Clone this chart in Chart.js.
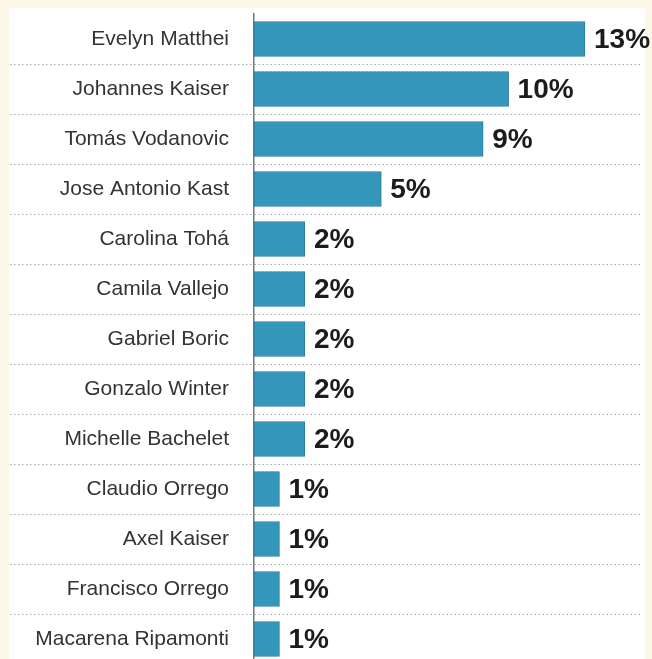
<!DOCTYPE html>
<html>
<head>
<meta charset="utf-8">
<script src="https://cdn.jsdelivr.net/npm/chart.js@4"></script>
<style>
  html, body { margin: 0; padding: 0; background: #fbf6e5; overflow: hidden; }
  #panel { position: absolute; left: 9px; top: 8px; width: 636px; height: 700px; background: #ffffff; }
  #chart { position: absolute; left: 0; top: 0; }
</style>
</head>
<body>
<div id="panel"></div>
<canvas id="chart" width="652" height="680"></canvas>
<script>
const candidates = [
  "Evelyn Matthei",
  "Johannes Kaiser",
  "Tomás Vodanovic",
  "Jose Antonio Kast",
  "Carolina Tohá",
  "Camila Vallejo",
  "Gabriel Boric",
  "Gonzalo Winter",
  "Michelle Bachelet",
  "Claudio Orrego",
  "Axel Kaiser",
  "Francisco Orrego",
  "Macarena Ripamonti"
];
const percentages = [13, 10, 9, 5, 2, 2, 2, 2, 2, 1, 1, 1, 1];
const percentLabels = percentages.map(v => v + "%");

const fontFamily = '"Liberation Sans", Arial, Helvetica, sans-serif';
const dotColor = ctx => ctx.index === 0 ? "rgba(0,0,0,0)" : "#a8a8a8";

// percent text right after each bar
const valueLabelPlugin = {
  id: "valueLabels",
  afterDatasetsDraw(chart) {
    const ctx = chart.ctx;
    const meta = chart.getDatasetMeta(0);
    ctx.save();
    ctx.font = "bold 28px " + fontFamily;
    ctx.fillStyle = "#1c1c1c";
    ctx.textAlign = "left";
    ctx.textBaseline = "middle";
    meta.data.forEach((bar, i) => {
      ctx.fillText(percentLabels[i], bar.x + 9, bar.y + 1);
    });
    ctx.restore();
  }
};

new Chart(document.getElementById("chart").getContext("2d"), {
  type: "bar",
  data: {
    labels: candidates,
    datasets: [{
      data: percentages,
      backgroundColor: "#3396ba",
      borderColor: "#2a7b9b",
      borderWidth: 1,
      borderSkipped: false,
      barThickness: 35
    }]
  },
  options: {
    indexAxis: "y",
    responsive: false,
    animation: false,
    layout: { padding: { top: 14, bottom: 16, left: 0, right: 11 } },
    plugins: {
      legend: { display: false },
      tooltip: { enabled: false }
    },
    scales: {
      x: { display: false, min: 0, max: 15.2 },
      y: {
        afterFit: scale => { scale.width = 254; },
        grid: {
          offset: true,
          color: dotColor,
          lineWidth: 1,
          tickLength: 244,
          tickColor: dotColor,
          tickBorderDash: [1.5, 2.5]
        },
        border: { display: true, color: "#777777", width: 1.5, dash: [1.5, 2.5] },
        ticks: {
          autoSkip: false,
          padding: -219,
          color: "#333333",
          font: { family: fontFamily, size: 21 }
        }
      }
    }
  },
  plugins: [valueLabelPlugin]
});
</script>
</body>
</html>
